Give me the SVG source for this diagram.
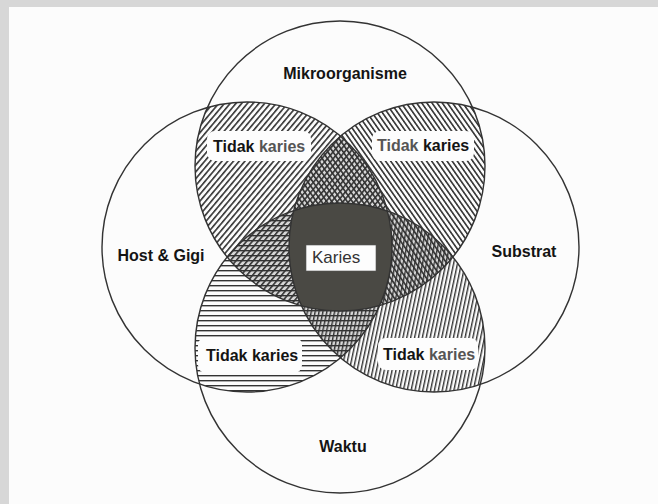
<svg xmlns="http://www.w3.org/2000/svg" width="658" height="504" viewBox="0 0 658 504">
<style>
.ring{fill:none;stroke:#333;stroke-width:1.4}
.lbl{font-family:"Liberation Sans",Arial,sans-serif;font-size:16px;font-weight:bold;fill:#141414}
.soft{fill:#555}
.patch{fill:#fdfdfd}
.shade{fill:#333;fill-opacity:0.18}
</style>
<defs>
<clipPath id="cM"><circle cx="340" cy="166" r="145"/></clipPath>
<clipPath id="cH"><circle cx="247" cy="247" r="145"/></clipPath>
<clipPath id="cS"><circle cx="434" cy="247" r="145"/></clipPath>
<clipPath id="cW"><circle cx="340" cy="348" r="145"/></clipPath>
<pattern id="pFwd" width="4.4" height="10" patternUnits="userSpaceOnUse" patternTransform="rotate(40)"><rect width="1.6" height="10" fill="#333"/></pattern>
<pattern id="pBack" width="4.2" height="10" patternUnits="userSpaceOnUse" patternTransform="rotate(-35)"><rect width="1.6" height="10" fill="#333"/></pattern>
<pattern id="pHor" width="10" height="5" patternUnits="userSpaceOnUse"><rect width="10" height="1.4" fill="#333"/></pattern>
<pattern id="pVer" width="3.8" height="10" patternUnits="userSpaceOnUse" patternTransform="rotate(12)"><rect width="1.4" height="10" fill="#333"/></pattern>
</defs>
<rect x="0" y="0" width="658" height="504" fill="#d7d7d7"/>
<rect x="9" y="7" width="649" height="497" fill="#fcfcfc"/>

<g id="hatching">
<g clip-path="url(#cM)"><rect x="90" y="20" width="500" height="480" fill="url(#pFwd)" clip-path="url(#cH)"/></g>
<g clip-path="url(#cM)"><rect x="90" y="20" width="500" height="480" fill="url(#pBack)" clip-path="url(#cS)"/></g>
<g clip-path="url(#cW)"><rect x="90" y="20" width="500" height="480" fill="url(#pHor)" clip-path="url(#cH)"/></g>
<g clip-path="url(#cW)"><rect x="90" y="20" width="500" height="480" fill="url(#pVer)" clip-path="url(#cS)"/></g>
<g clip-path="url(#cM)"><g clip-path="url(#cH)"><rect class="shade" x="90" y="20" width="500" height="480" clip-path="url(#cS)"/></g></g>
<g clip-path="url(#cM)"><g clip-path="url(#cH)"><rect class="shade" x="90" y="20" width="500" height="480" clip-path="url(#cW)"/></g></g>
<g clip-path="url(#cM)"><g clip-path="url(#cS)"><rect class="shade" x="90" y="20" width="500" height="480" clip-path="url(#cW)"/></g></g>
<g clip-path="url(#cH)"><g clip-path="url(#cS)"><rect class="shade" x="90" y="20" width="500" height="480" clip-path="url(#cW)"/></g></g>
<g clip-path="url(#cM)"><g clip-path="url(#cW)"><g clip-path="url(#cH)"><rect x="90" y="20" width="500" height="480" fill="#4a4944" clip-path="url(#cS)"/></g></g></g>
</g>

<g id="node-mikroorganisme">
<circle class="ring" cx="340" cy="166" r="145"/>
<text class="lbl" x="345" y="79" text-anchor="middle">Mikroorganisme</text>
</g>
<g id="node-host">
<circle class="ring" cx="247" cy="247" r="145"/>
<text class="lbl" x="161" y="261" text-anchor="middle">Host &amp; Gigi</text>
</g>
<g id="node-substrat">
<circle class="ring" cx="434" cy="247" r="145"/>
<text class="lbl" x="524" y="257" text-anchor="middle">Substrat</text>
</g>
<g id="node-waktu">
<circle class="ring" cx="340" cy="348" r="145"/>
<text class="lbl" x="343" y="452" text-anchor="middle">Waktu</text>
</g>

<g id="node-tidak-karies-tl">
<rect class="patch" x="207" y="131" width="104" height="30" rx="8"/>
<text class="lbl" x="213" y="152">Tidak <tspan class="soft">karies</tspan></text>
</g>
<g id="node-tidak-karies-tr">
<rect class="patch" x="372" y="131" width="102" height="30" rx="8"/>
<text class="lbl" x="377" y="151"><tspan class="soft">Tidak</tspan> karies</text>
</g>
<g id="node-tidak-karies-bl">
<rect class="patch" x="198" y="337" width="104" height="36" rx="8"/>
<text class="lbl" x="206" y="361">Tidak karies</text>
</g>
<g id="node-tidak-karies-br">
<rect class="patch" x="378" y="338" width="100" height="32" rx="8"/>
<text class="lbl" x="383" y="360">Tidak <tspan class="soft">karies</tspan></text>
</g>
<g id="node-karies">
<rect x="306" y="245" width="70" height="26" fill="#fdfdfd" stroke="#555" stroke-width="0.6"/>
<text x="312" y="263" style="font-family:'Liberation Sans',Arial,sans-serif;font-size:17px;fill:#333">Karies</text>
</g>
<g id="connectors"/>
</svg>
